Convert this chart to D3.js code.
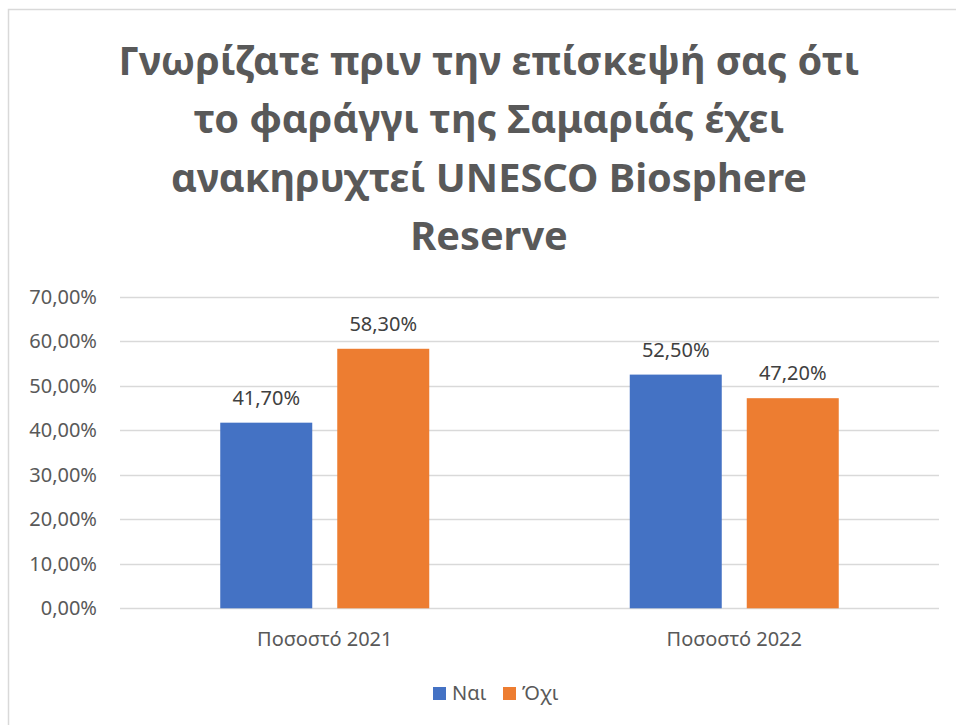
<!DOCTYPE html>
<html>
<head>
<meta charset="utf-8">
<script src="https://cdn.jsdelivr.net/npm/d3@7"></script>
<style>
  html, body { margin: 0; padding: 0; background: #fff; }
  svg { display: block; }
  text { font-family: "Noto Sans", "Open Sans", sans-serif; }
</style>
</head>
<body>
<svg id="chart" width="956" height="725"></svg>
<script>
// ---- data ----
const titleLines = [
  "Γνωρίζατε πριν την επίσκεψή σας ότι",
  "το φαράγγι της Σαμαριάς έχει",
  "ανακηρυχτεί UNESCO Biosphere",
  "Reserve"
];
const categories = ["Ποσοστό 2021", "Ποσοστό 2022"];
const seriesNames = ["Ναι", "Όχι"];
const naiValues = [0.417, 0.525];
const oxiValues = [0.583, 0.472];
const yTicks = [0, 0.1, 0.2, 0.3, 0.4, 0.5, 0.6, 0.7];
const colors = ["#4472C4", "#ED7D31"];

const seriesValues = [naiValues, oxiValues];

const svg = d3.select("#chart");
const W = 956, H = 725;

svg.append("rect").attr("width", W).attr("height", H).attr("fill", "#fff");
// outer chart frame
svg.append("rect")
  .attr("x", 8.5).attr("y", 9.5)
  .attr("width", W + 20).attr("height", H + 20)
  .attr("fill", "none").attr("stroke", "#d9d9d9").attr("stroke-width", 1.5);

// ---- title ----
const titleG = svg.append("g");
const titleCenter = 489;
const baselines = [75, 133.3, 191.7, 250];
let fs = 40;
const titleTexts = titleG.selectAll("text").data(titleLines).join("text")
  .attr("x", titleCenter)
  .attr("y", (d, i) => baselines[i])
  .attr("text-anchor", "middle")
  .attr("font-weight", "bold")
  .attr("fill", "#595959")
  .attr("font-size", fs)
  .text(d => d);
const w0 = titleTexts.nodes()[0].getComputedTextLength();
fs = fs * 741 / w0;
titleTexts.attr("font-size", fs);

// ---- plot ----
const plot = { left: 120, right: 939, top: 296.7, bottom: 608.3 };

const y = d3.scaleLinear().domain([0, 0.7]).range([plot.bottom, plot.top]);
const x0 = d3.scaleBand().domain(categories).range([plot.left, plot.right]).paddingInner(0).paddingOuter(0);
const groupW = 209;
const x1 = d3.scaleBand().domain(seriesNames).range([-groupW / 2, groupW / 2]).paddingInner(2 - groupW / 117).paddingOuter(0);

const locale = d3.formatLocale({ decimal: ",", thousands: ".", grouping: [3], currency: ["€", ""] });
const pct = locale.format(".2%");

// gridlines
svg.append("g").selectAll("line").data(yTicks).join("line")
  .attr("x1", plot.left).attr("x2", plot.right)
  .attr("y1", d => Math.round(y(d)) + 0.5).attr("y2", d => Math.round(y(d)) + 0.5)
  .attr("stroke", "#d9d9d9").attr("stroke-width", 1.3);

// y axis labels
const yAxis = d3.axisLeft(y).tickValues(yTicks).tickFormat(pct).tickSize(0).tickPadding(23);
const yg = svg.append("g").attr("transform", `translate(${plot.left},0)`).call(yAxis);
yg.select(".domain").remove();
yg.selectAll("text").attr("font-size", 20).attr("fill", "#595959")
  .attr("font-family", "'Noto Sans', 'Open Sans', sans-serif");

// bars
const groups = svg.append("g").selectAll("g").data(categories).join("g")
  .attr("transform", d => `translate(${x0(d) + x0.bandwidth() / 2},0)`);

groups.each(function (cat, ci) {
  const g = d3.select(this);
  seriesNames.forEach((s, si) => {
    const v = seriesValues[si][ci];
    g.append("rect")
      .attr("x", x1(s)).attr("width", x1.bandwidth())
      .attr("y", y(v)).attr("height", y(0) - y(v))
      .attr("fill", colors[si]);
    g.append("text")
      .attr("x", x1(s) + x1.bandwidth() / 2)
      .attr("y", y(v) - 18)
      .attr("text-anchor", "middle")
      .attr("font-size", 20)
      .attr("fill", "#404040")
      .text(pct(v).replace(/^(\d+),(\d)0%$/, "$1,$20%"));
  });
});

// x axis labels
const xAxis = d3.axisBottom(x0).tickSize(0).tickPadding(0);
const xg = svg.append("g").attr("transform", `translate(0,${plot.bottom})`).call(xAxis);
xg.select(".domain").remove();
xg.selectAll("text").attr("font-size", 20).attr("fill", "#595959")
  .attr("dy", null).attr("y", 38)
  .attr("font-family", "'Noto Sans', 'Open Sans', sans-serif");

// legend
const legend = svg.append("g");
const legendItems = [
  { name: seriesNames[0], color: colors[0], x: 433 },
  { name: seriesNames[1], color: colors[1], x: 503 }
];
legendItems.forEach(it => {
  legend.append("rect").attr("x", it.x).attr("y", 687).attr("width", 13).attr("height", 13).attr("fill", it.color);
  legend.append("text").attr("x", it.x + 19).attr("y", 700).attr("font-size", 20)
    .attr("fill", "#595959").text(it.name);
});
</script>
</body>
</html>
